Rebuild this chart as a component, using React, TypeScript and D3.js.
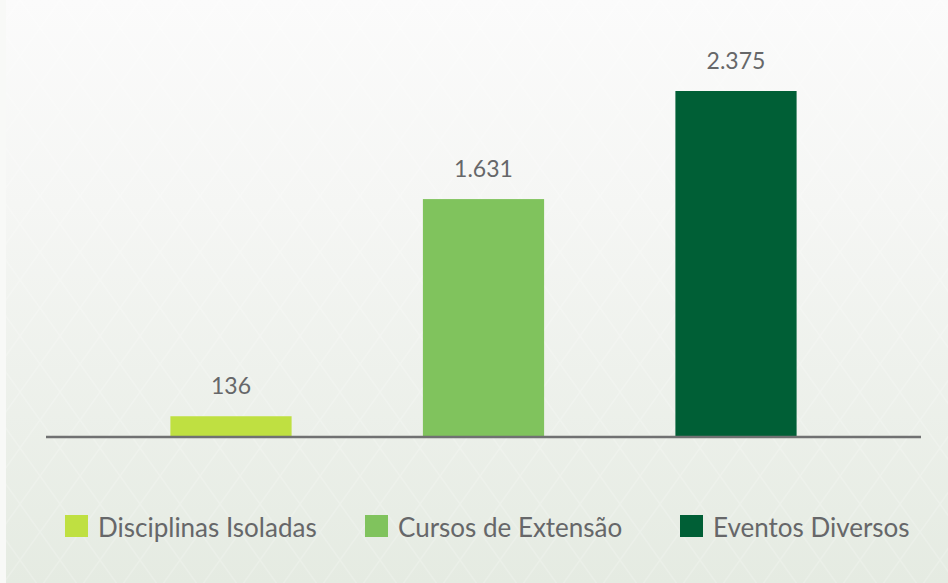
import React from "react";
import * as d3 from "d3";

const categories = ["Disciplinas Isoladas", "Cursos de Extensão", "Eventos Diversos"];
const values = [136, 1631, 2375];
const valueLabels = ["136", "1.631", "2.375"];
const colors = ["#bfe041", "#80c35d", "#005f36"];

const W = 948;
const H = 583;

export default function App() {
  const x = d3.scaleBand<string>().domain(categories).range([46, 921]).paddingInner(0.52).paddingOuter(0.4927);
  const y = d3.scaleLinear().domain([0, 2375]).range([436, 91]);
  const legendX = [65, 365, 680];
  const fontFam = "'Lato', 'Open Sans', sans-serif";

  return (
    <div style={{ position: "absolute", left: 0, top: 0 }}>
      <svg width={W} height={H} style={{ display: "block" }}>
        <defs>
          <linearGradient id="bg" x1="0" y1="0" x2="0" y2="1">
            <stop offset="0" stopColor="#fbfbfb" />
            <stop offset="0.35" stopColor="#f5f6f4" />
            <stop offset="1" stopColor="#e5ebe2" />
          </linearGradient>
          <pattern id="diamonds" width="40" height="56" patternUnits="userSpaceOnUse">
            <path d="M20 0 L40 28 L20 56 L0 28 Z" fill="none" stroke="#ffffff" strokeOpacity="0.18" strokeWidth="1.5" />
          </pattern>
        </defs>
        <rect x={0} y={0} width={W} height={H} fill="url(#bg)" />
        <rect x={0} y={0} width={W} height={H} fill="url(#diamonds)" />
        <rect x={0} y={0} width={6} height={H} fill="#f8f9f7" />

        {categories.map((c, i) => (
          <rect key={c} x={x(c)} y={y(values[i])} width={x.bandwidth()} height={y(0) - y(values[i])} fill={colors[i]} />
        ))}
        {categories.map((c, i) => (
          <text
            key={"l" + c}
            x={(x(c) as number) + x.bandwidth() / 2}
            y={y(values[i]) - 22}
            textAnchor="middle"
            fontFamily={fontFam}
            fontSize={23}
            fill="#666769"
          >
            {valueLabels[i]}
          </text>
        ))}
        <line x1={46} x2={921} y1={y(0) + 1} y2={y(0) + 1} stroke="#707172" strokeWidth={2.5} />

        {categories.map((c, i) => (
          <g key={"lg" + c} transform={`translate(${legendX[i]},515)`}>
            <rect x={0} y={0} width={23} height={22} fill={colors[i]} />
            <text x={33} y={22} fontFamily={fontFam} fontSize={26} fill="#666769">
              {c}
            </text>
          </g>
        ))}
      </svg>
    </div>
  );
}
